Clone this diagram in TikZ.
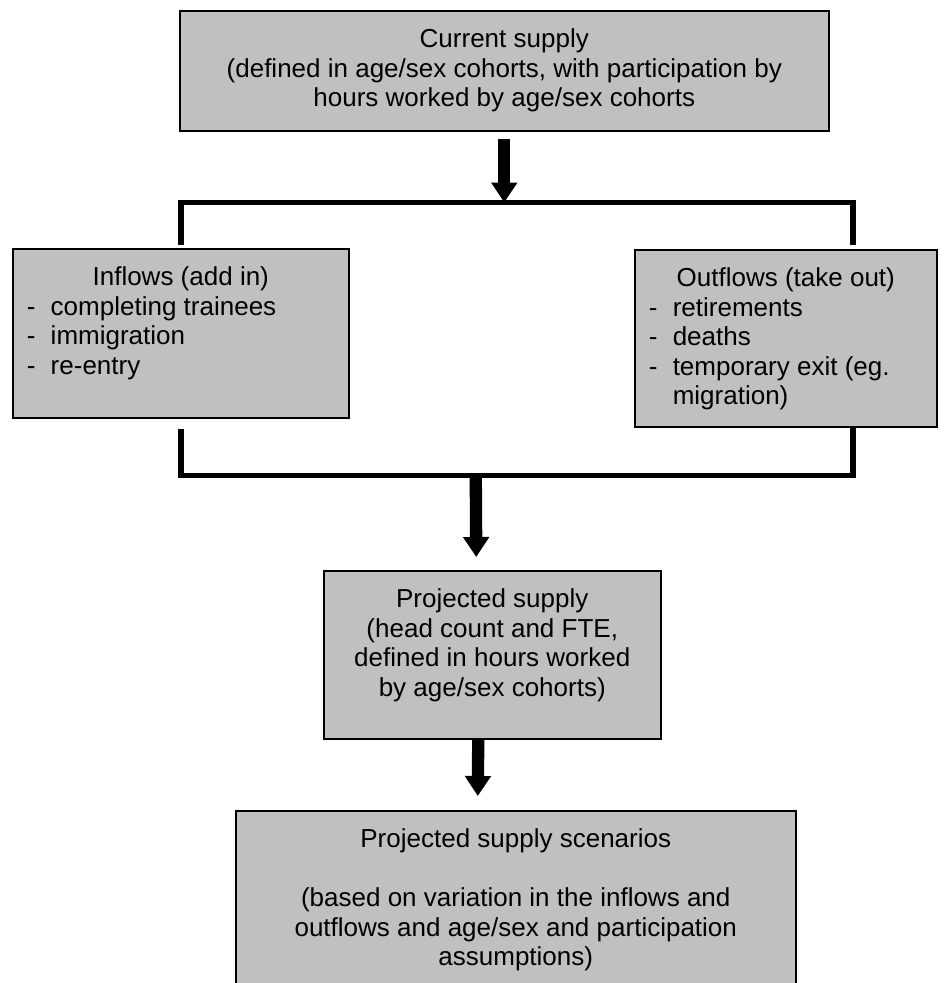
\documentclass[tikz,border=0pt]{standalone}
\usepackage{fontspec}
\setmainfont{Liberation Sans}
\usetikzlibrary{arrows.meta, calc}
\usepackage{xcolor}
\definecolor{boxgray}{RGB}{192,192,192}
\newdimen\pxu \pxu=0.03cm
\newcommand{\boxfont}{\fontsize{22.2pt}{25.2pt}\selectfont}
\newcommand{\dashitem}{\makebox[24\pxu][l]{-}}

\begin{document}
\begin{tikzpicture}[x=0.03cm, y=-0.03cm,
    flowbox/.style={draw=black, fill=boxgray, line width=1.3pt, inner sep=0pt, anchor=north west, font=\boxfont},
    bracket/.style={line width=5pt},
    bigarrow/.style={line width=10.5pt, -{Triangle[width=0.75cm, length=0.6cm]}}]
    \useasboundingbox (0,0) rectangle (949,983);

    % Current supply
    \node[flowbox] (current) at (179,10) {\parbox[t][120\pxu][t]{649\pxu}{\vspace*{18\pxu}\centering
        Current supply\\
        (defined in age/sex cohorts, with participation by\\
        hours worked by age/sex cohorts}};

    % Inflows and outflows
    \node[flowbox] (inflows) at (12,248) {\parbox[t][169\pxu][t]{336\pxu}{\vspace*{18\pxu}\centering
        Inflows (add in)\par\raggedright\leftskip=14\pxu
        \dashitem completing trainees\\
        \dashitem immigration\\
        \dashitem re-entry}};
    \node[flowbox] (outflows) at (634,249) {\parbox[t][177\pxu][t]{302\pxu}{\vspace*{18\pxu}\centering
        Outflows (take out)\par\raggedright\leftskip=14\pxu
        \dashitem retirements\\
        \dashitem deaths\\
        \dashitem temporary exit (eg.\\
        \hspace*{24\pxu}migration)}};

    % Projected supply
    \node[flowbox] (projected) at (323,570) {\parbox[t][168\pxu][t]{337\pxu}{\vspace*{18\pxu}\centering
        Projected supply\\
        (head count and FTE,\\
        defined in hours worked\\
        by age/sex cohorts)}};

    % Scenarios
    \node[flowbox] (scenarios) at (235,810) {\parbox[t][190\pxu][t]{560\pxu}{\vspace*{18\pxu}\centering
        Projected supply scenarios\\[25.2pt]
        (based on variation in the inflows and\\
        outflows and age/sex and participation\\
        assumptions)}};

    % Split into inflows and outflows
    \coordinate (split) at ($(current.south)+(0,71)$);
    \coordinate (inleg) at ($(inflows.north)+(0,-3)$);
    \coordinate (outleg) at ($(outflows.north)+(67,-4)$);
    \draw[bracket] (inleg) |- (split) -| (outleg);
    \draw[bigarrow] ($(current.south)+(0,7)$) -- (split);

    % Join back together
    \coordinate (inleg2) at ($(inflows.south)+(0,10)$);
    \coordinate (outleg2) at ($(outflows.south)+(67,0)$);
    \coordinate (join) at ($(inflows.south)+(295,57)$);
    \draw[bracket] (inleg2) |- (join) -| (outleg2);
    \draw[bigarrow] (join) -- ($(projected.north)+(-16,-13)$);

    % Down to the scenarios
    \draw[bigarrow] ($(projected.south)+(-14,0)$) -- ($(scenarios.north)+(-38,-14)$);
\end{tikzpicture}
\end{document}
